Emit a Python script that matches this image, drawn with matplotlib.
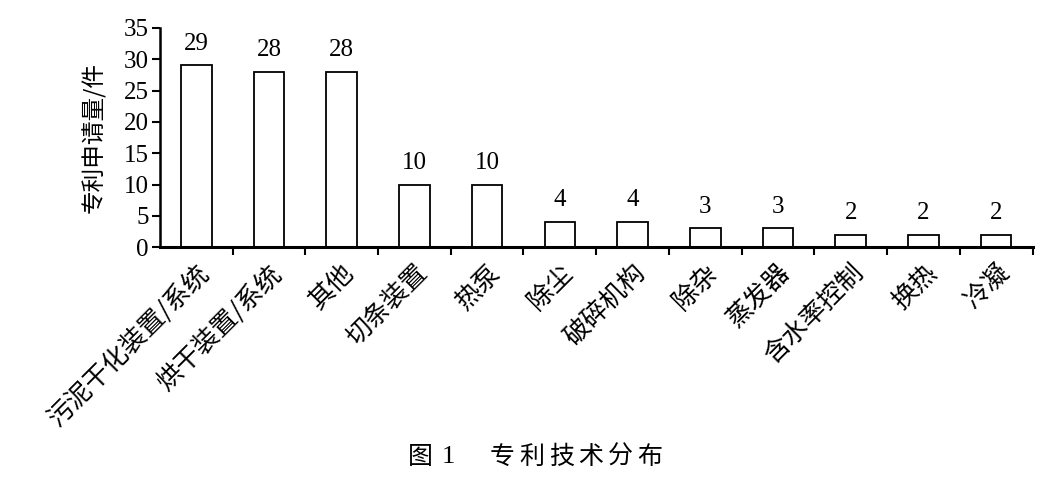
import matplotlib
matplotlib.use("Agg")
import matplotlib.pyplot as plt
import numpy as np

categories = ["污泥干化装置/系统", "烘干装置/系统", "其他", "切条装置", "热泵", "除尘",
              "破碎机构", "除杂", "蒸发器", "含水率控制", "换热", "冷凝"]
values = [29, 28, 28, 10, 10, 4, 4, 3, 3, 2, 2, 2]
yticks = [0, 5, 10, 15, 20, 25, 30, 35]
caption_head = ["图", "1"]
caption_body = "专利技术分布"

cjk = ["Noto Sans CJK SC", "DejaVu Sans"]
serif = ["Liberation Serif", "DejaVu Serif"]

W, H = 1059, 480
fig = plt.figure(figsize=(W / 100, H / 100), dpi=100)
ax = fig.add_axes([0.151, 0.485, 0.824, 0.457])

x = np.arange(len(categories))
ax.bar(x, values, width=0.42, color="white", edgecolor="black", linewidth=1.3)
for xi, v in zip(x, values):
    ax.text(xi, v + 1.7, str(v), ha="center", va="bottom", fontsize=18, family=serif)

ax.set_xlim(-0.5, len(categories) - 0.5)
ax.set_ylim(0, 35)
ax.set_yticks(yticks)
ax.set_yticklabels([str(t) for t in yticks], family=serif, fontsize=18)
ax.set_xticks(x)
ax.set_xticklabels(categories, rotation=45, ha="right", rotation_mode="anchor",
                   family=cjk, fontsize=18.5)
ax.set_xticks(np.arange(0.5, len(categories), 1), minor=True)
ax.tick_params(axis="x", which="major", length=0, pad=9)
ax.tick_params(axis="x", which="minor", length=6, width=1.5, direction="out")
ax.tick_params(axis="y", length=6, width=1.5, direction="out", pad=2)

for s in ["top", "right"]:
    ax.spines[s].set_visible(False)
ax.spines["left"].set_linewidth(1.8)
ax.spines["bottom"].set_linewidth(2.2)

ax.set_ylabel("专利申请量/件", family=cjk, fontsize=17, labelpad=13)

# caption, laid out character by character (pixel positions)
cy = 1 - 457 / H
fig.text(420 / W, cy, caption_head[0], ha="center", va="center", family=cjk, fontsize=18)
fig.text(448 / W, cy, caption_head[1], ha="center", va="center", family=serif, fontsize=19)
for i, ch in enumerate(caption_body):
    fig.text((502.5 + 29.5 * i) / W, cy, ch, ha="center", va="center", family=cjk, fontsize=18)

fig.savefig("out.png", dpi=100)
